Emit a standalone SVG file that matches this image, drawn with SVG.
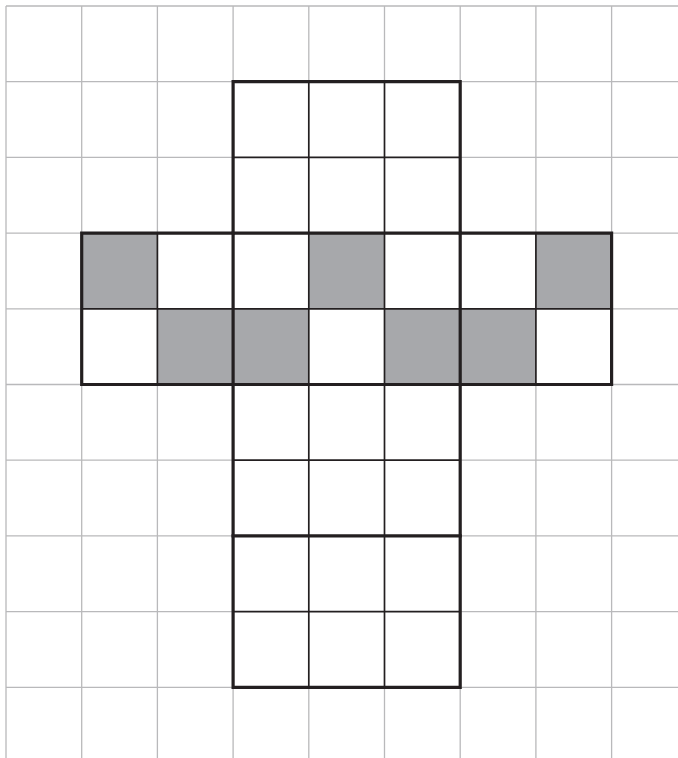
<svg xmlns="http://www.w3.org/2000/svg" width="678" height="758" viewBox="0 0 678 758">
<style>
.grid{stroke:#b9b9bb;stroke-width:1.3;fill:none}
.shade{fill:#a7a8ab;stroke:none}
.thin{stroke:#231f20;stroke-width:1.7;fill:none}
.thick{stroke:#231f20;stroke-width:3.2;fill:none;stroke-linecap:square;stroke-linejoin:miter}
</style>
<rect width="678" height="758" fill="#ffffff"/>
<g id="grid" class="grid">
<path d="M6,6V758M81.7,6V758M157.4,6V758M233.1,6V758M308.8,6V758M384.5,6V758M460.2,6V758M535.9,6V758M611.6,6V758"/>
<path d="M6,6H678M6,81.7H678M6,157.4H678M6,233.1H678M6,308.8H678M6,384.5H678M6,460.2H678M6,535.9H678M6,611.6H678M6,687.3H678"/>
</g>
<g id="net-white">
<path d="M233.1,81.7H460.2V233.1H611.6V384.5H460.2V687.3H233.1V384.5H81.7V233.1H233.1Z" fill="#ffffff"/>
</g>
<g id="shaded">
<rect class="shade" x="81.7" y="233.1" width="75.7" height="75.7"/>
<rect class="shade" x="308.8" y="233.1" width="75.7" height="75.7"/>
<rect class="shade" x="535.9" y="233.1" width="75.7" height="75.7"/>
<rect class="shade" x="157.4" y="308.8" width="75.7" height="75.7"/>
<rect class="shade" x="233.1" y="308.8" width="75.7" height="75.7"/>
<rect class="shade" x="384.5" y="308.8" width="75.7" height="75.7"/>
<rect class="shade" x="460.2" y="308.8" width="75.7" height="75.7"/>
</g>
<g id="thin-lines" class="thin">
<path d="M308.8,81.7V687.3M384.5,81.7V687.3"/>
<path d="M233.1,157.4H460.2M233.1,460.2H460.2M233.1,611.6H460.2"/>
<path d="M157.4,233.1V384.5M535.9,233.1V384.5"/>
<path d="M81.7,308.8H611.6"/>
</g>
<g id="thick-lines" class="thick">
<path d="M233.1,81.7H460.2V233.1H611.6V384.5H460.2V687.3H233.1V384.5H81.7V233.1H233.1Z"/>
<path d="M233.1,233.1H460.2M233.1,384.5H460.2M233.1,233.1V384.5M460.2,233.1V384.5M233.1,535.9H460.2"/>
</g>
</svg>
